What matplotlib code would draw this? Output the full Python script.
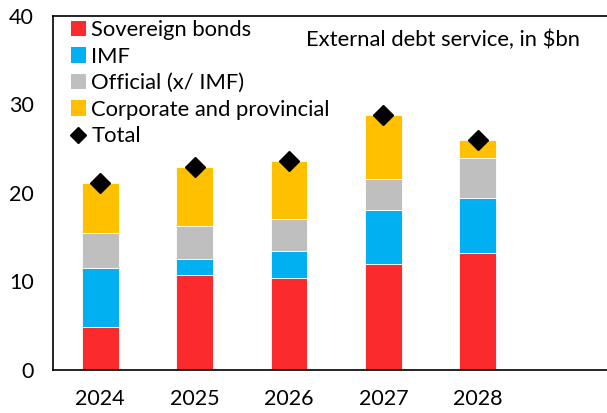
import matplotlib
matplotlib.use("Agg")
import matplotlib.pyplot as plt
import numpy as np
from matplotlib.lines import Line2D
from matplotlib.patches import Patch

years = ["2024", "2025", "2026", "2027", "2028"]
sovereign = [4.8, 10.65, 10.4, 11.95, 13.2]
imf = [6.7, 1.85, 3.0, 6.15, 6.2]
official = [3.9, 3.7, 3.6, 3.5, 4.5]
corporate = [5.7, 6.75, 6.55, 7.2, 2.05]
total = [21.1, 22.95, 23.55, 28.8, 25.95]

colors = ["#FB2B2D", "#00B0F0", "#BFBFBF", "#FFC000"]
names = ["Sovereign bonds", "IMF", "Official (x/ IMF)", "Corporate and provincial"]

plt.rcParams['font.family'] = ['Lato', 'DejaVu Sans']

fig = plt.figure(figsize=(6.07, 4.13), dpi=100)
ax = fig.add_axes([53/607, 1 - 369.5/413, 1 - 53/607, (369.5 - 16)/413])

x = np.arange(len(years))
bottom = np.zeros(len(years))
for vals, c in zip([sovereign, imf, official, corporate], colors):
    ax.bar(x, vals, width=0.39, bottom=bottom, color=c, edgecolor='white', linewidth=0.6, zorder=2)
    bottom += np.array(vals)
ax.plot(x, total, linestyle='none', marker='D', color='black', markersize=10, zorder=3)

ax.set_ylim(0, 40)
ax.set_xlim(-0.5, -0.5 + (607 - 53) / 94.4)
ax.set_yticks([0, 10, 20, 30, 40])
ax.set_xticks(x)
ax.set_xticklabels(years)
ax.tick_params(axis='both', length=0, labelsize=15.5)
ax.tick_params(axis='x', pad=14)
ax.tick_params(axis='y', pad=14)
for s in ['left', 'top', 'bottom']:
    ax.spines[s].set_linewidth(1.2)
    ax.spines[s].set_color('black')
ax.spines['right'].set_visible(False)

handles = [Patch(facecolor=c, edgecolor='none') for c in colors]
handles.append(Line2D([], [], linestyle='none', marker='D', color='black', markersize=8))
leg = ax.legend(handles, names + ["Total"], loc='upper left', bbox_to_anchor=(0.004, 1.032),
                frameon=False, fontsize=15.8, handlelength=0.7, handleheight=0.7,
                handletextpad=0.25, labelspacing=0.3, borderaxespad=0.3)

ax.text(0.951, 0.932, "External debt service, in $bn", transform=ax.transAxes,
        ha='right', va='center', fontsize=15.8)

fig.savefig("out.png", dpi=100)
